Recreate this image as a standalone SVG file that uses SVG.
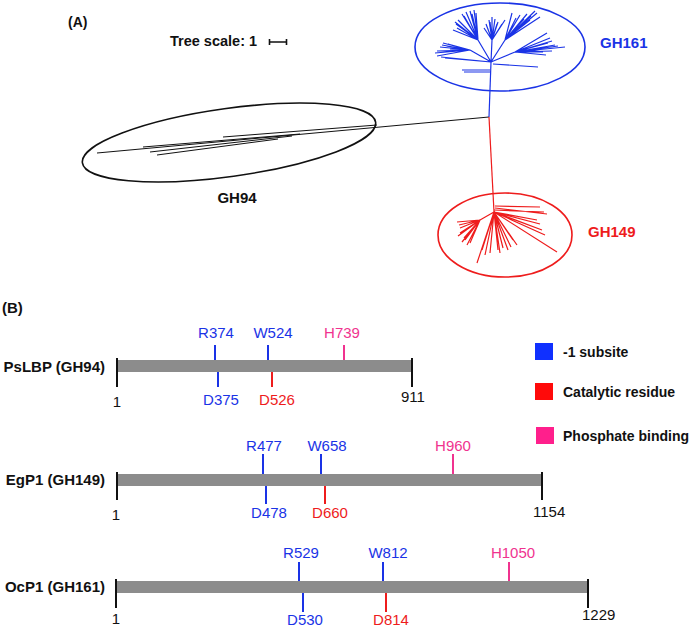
<svg xmlns="http://www.w3.org/2000/svg" width="693" height="628" viewBox="0 0 693 628">
<style>
text{font-family:"Liberation Sans",Arial,sans-serif}
.b{font-weight:bold;fill:#111}
.lbl{font-size:15px;text-anchor:middle}
.blue{fill:#1a33e6}.red{fill:#ee1c1c}.pink{fill:#f0338f}
.tb{stroke:#1a33e6;stroke-width:1.2;fill:none}
.tr{stroke:#ee1c1c;stroke-width:1.2;fill:none}
.tk{stroke:#111;stroke-width:1;fill:none}
.bar{fill:#8c8c8c}
.end{stroke:#111;stroke-width:2}
.mb{stroke:#1a33e6;stroke-width:2}
.mr{stroke:#ee1c1c;stroke-width:2}
.mp{stroke:#f0338f;stroke-width:2}
</style>

<!-- Panel A -->
<g id="panelA-labels">
<text x="68" y="27" class="b" font-size="14">(A)</text>
<text x="170" y="46" class="b" font-size="14.5">Tree scale: 1</text>
<path d="M269,42H287M269.5,39V45M286.5,39V45" stroke="#111" stroke-width="1.6"/>
</g>

<g id="connectors">
<path d="M489,117L97,153" class="tk" stroke-width="1.3"/>
<path d="M489,117L491,62" class="tb"/>
<path d="M489,117L494,212" class="tr"/>
</g>

<g id="GH94">
<ellipse cx="229" cy="142.5" rx="148" ry="34" transform="rotate(-7.9 229 142.5)" fill="none" stroke="#111" stroke-width="1.6"/>
<path class="tk" d="M143,147L300,134M150,152L292,136M157,155L278,139M223,137L377,125"/>
<text x="237" y="203" class="b" font-size="15" text-anchor="middle">GH94</text>
</g>

<g id="GH161">
<ellipse cx="500" cy="47" rx="85" ry="44" fill="none" stroke="#1a33e6" stroke-width="1.6"/>
<path class="tb" d="M491,62L470,50M491,62L478,40M491,62L492,40M491,62L505,40M491,62L515,52
M470,50L435,53M470,50L437,51M470,50L440,47M470,50L442,45M470,50L443,43M470,50L446,46M470,50L448,44M470,50L450,49M470,50L437,56M491,62L441,57M491,62L445,58
M478,40L455,22M478,40L456,24M478,40L458,20M478,40L462,14M478,40L464,16M478,40L466,12M478,40L470,11M478,40L472,14M478,40L474,10M478,40L476,13M478,40L453,30M478,40L457,28M478,40L460,26
M492,40L489,20M492,40L490,22M492,40L492,17M492,40L495,19M492,40L497,24M492,40L498,22M492,40L502,24M492,40L505,20M492,40L486,24M492,40L484,28
M505,40L512,13M505,40L516,18M505,40L520,15M505,40L524,19M505,40L527,14M505,40L531,16M505,40L535,11M505,40L537,13M505,40L540,17M505,40L530,20M505,40L522,24
M515,52L547,33M515,52L550,38M515,52L552,41M515,52L565,47M515,52L558,46M515,52L555,45M515,52L548,43M515,52L543,52M515,52L546,55M515,52L540,50M515,52L552,51
M493,64L538,67M462,70L490,70M464,72L491,72"/>
<text x="600" y="48" class="b" font-size="15" style="fill:#1a33e6">GH161</text>
</g>

<g id="GH149">
<ellipse cx="505" cy="235" rx="67" ry="42" fill="none" stroke="#ee1c1c" stroke-width="1.6"/>
<path class="tr" d="M495,206L540,207M495,208L547,214M494,210L544,212M494,212L537,220M494,212L540,224M494,212L542,230M494,212L545,235M494,212L557,252
M494,212L480,220M480,220L457,222M480,220L459,225M480,220L460,228M480,220L460,233M480,220L462,242M480,220L465,240M480,220L467,245M480,220L464,238M480,220L470,243M480,220L458,236
M494,212L477,263M494,212L482,250M494,212L485,255M494,212L490,253M494,212L498,250M494,212L500,253M494,212L508,250M494,212L511,247M494,212L517,245M494,212L513,240M494,212L503,248"/>
<text x="588" y="237" class="b" font-size="15" style="fill:#ee1c1c">GH149</text>
</g>

<!-- Panel B -->
<text x="2" y="313" class="b" font-size="15">(B)</text>

<g id="PsLBP">
<text x="105" y="372" class="b" font-size="15" text-anchor="end">PsLBP (GH94)</text>
<rect x="117" y="360" width="295" height="12" class="bar"/>
<line x1="117" y1="358" x2="117" y2="387" class="end"/>
<line x1="412" y1="358" x2="412" y2="387" class="end"/>
<line x1="215" y1="345" x2="215" y2="360" class="mb"/>
<line x1="268" y1="345" x2="268" y2="360" class="mb"/>
<line x1="344" y1="345" x2="344" y2="360" class="mp"/>
<line x1="218" y1="372" x2="218" y2="387" class="mb"/>
<line x1="272" y1="372" x2="272" y2="387" class="mr"/>
<text x="216" y="338" class="lbl blue">R374</text>
<text x="273" y="338" class="lbl blue">W524</text>
<text x="342" y="338" class="lbl pink">H739</text>
<text x="221" y="405" class="lbl blue">D375</text>
<text x="277" y="405" class="lbl red">D526</text>
<text x="117" y="407" class="lbl" fill="#111">1</text>
<text x="401" y="402" font-size="15" fill="#111">911</text>
</g>

<g id="EgP1">
<text x="105" y="485" class="b" font-size="15" text-anchor="end">EgP1 (GH149)</text>
<rect x="117" y="474" width="425" height="12" class="bar"/>
<line x1="117" y1="472" x2="117" y2="500" class="end"/>
<line x1="542" y1="472" x2="542" y2="500" class="end"/>
<line x1="263" y1="454" x2="263" y2="474" class="mb"/>
<line x1="321" y1="454" x2="321" y2="474" class="mb"/>
<line x1="453" y1="454" x2="453" y2="474" class="mp"/>
<line x1="266" y1="486" x2="266" y2="504" class="mb"/>
<line x1="325" y1="486" x2="325" y2="504" class="mr"/>
<text x="264" y="451" class="lbl blue">R477</text>
<text x="327" y="451" class="lbl blue">W658</text>
<text x="453" y="451" class="lbl pink">H960</text>
<text x="269" y="518" class="lbl blue">D478</text>
<text x="330" y="518" class="lbl red">D660</text>
<text x="116" y="520" class="lbl" fill="#111">1</text>
<text x="533" y="517" font-size="15" fill="#111">1154</text>
</g>

<g id="OcP1">
<text x="105" y="592" class="b" font-size="15" text-anchor="end">OcP1 (GH161)</text>
<rect x="116" y="581" width="472" height="12" class="bar"/>
<line x1="116" y1="579" x2="116" y2="608" class="end"/>
<line x1="588" y1="579" x2="588" y2="608" class="end"/>
<line x1="299" y1="562" x2="299" y2="581" class="mb"/>
<line x1="383" y1="562" x2="383" y2="581" class="mb"/>
<line x1="509" y1="562" x2="509" y2="581" class="mp"/>
<line x1="303" y1="593" x2="303" y2="612" class="mb"/>
<line x1="386" y1="593" x2="386" y2="612" class="mr"/>
<text x="301" y="558" class="lbl blue">R529</text>
<text x="388" y="558" class="lbl blue">W812</text>
<text x="513" y="558" class="lbl pink">H1050</text>
<text x="305" y="625" class="lbl blue">D530</text>
<text x="391" y="625" class="lbl red">D814</text>
<text x="116" y="624" class="lbl" fill="#111">1</text>
<text x="582" y="620" font-size="15" fill="#111">1229</text>
</g>

<g id="legend">
<rect x="535" y="343" width="18" height="17" fill="#1030ff"/>
<text x="563" y="357" class="b" font-size="14">-1 subsite</text>
<rect x="535" y="383" width="18" height="17" fill="#ff0a0a"/>
<text x="563" y="397" class="b" font-size="14">Catalytic residue</text>
<rect x="536" y="427" width="18" height="17" fill="#ff1f8c"/>
<text x="563" y="441" class="b" font-size="14">Phosphate binding</text>
</g>
</svg>
